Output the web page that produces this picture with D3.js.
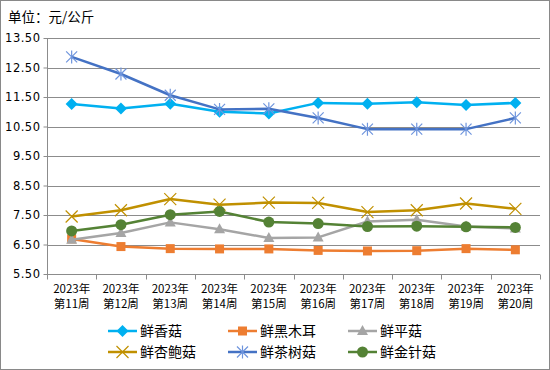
<!DOCTYPE html>
<html>
<head>
<meta charset="utf-8">
<script src="https://cdn.jsdelivr.net/npm/d3@7"></script>
<style>
  body { margin: 0; background: #fff; }
  svg text { font-family: "Noto Sans CJK SC", "Noto Sans", sans-serif; fill: #000; }
</style>
</head>
<body>
<div id="container"></div>
<script>
/* DATA */
const weeks = ["第11周", "第12周", "第13周", "第14周", "第15周", "第16周", "第17周", "第18周", "第19周", "第20周"];
const yearLabel = "2023年";
const yTicks = [5.5, 6.5, 7.5, 8.5, 9.5, 10.5, 11.5, 12.5, 13.5];

const xiangGu = [11.26, 11.11, 11.27, 11.00, 10.94, 11.30, 11.27, 11.32, 11.23, 11.30];
const heiMuEr = [6.69, 6.43, 6.36, 6.35, 6.35, 6.30, 6.28, 6.29, 6.36, 6.32];
const pingGu = [6.66, 6.89, 7.25, 7.02, 6.72, 6.74, 7.28, 7.34, 7.11, 7.04];
const xingBaoGu = [7.45, 7.66, 8.04, 7.85, 7.92, 7.91, 7.60, 7.66, 7.89, 7.71];
const chaShuGu = [12.86, 12.28, 11.56, 11.08, 11.10, 10.79, 10.41, 10.41, 10.41, 10.79];
const jinZhenGu = [6.96, 7.17, 7.51, 7.62, 7.26, 7.21, 7.11, 7.12, 7.10, 7.08];

const series = [
  { name: "鲜香菇", values: xiangGu, color: "#00B0F0", symbol: "diamond" },
  { name: "鲜黑木耳", values: heiMuEr, color: "#ED7D31", symbol: "square" },
  { name: "鲜平菇", values: pingGu, color: "#A5A5A5", symbol: "triangle" },
  { name: "鲜杏鲍菇", values: xingBaoGu, color: "#C09000", symbol: "x" },
  { name: "鲜茶树菇", values: chaShuGu, color: "#4472C4", symbol: "star" },
  { name: "鲜金针菇", values: jinZhenGu, color: "#548235", symbol: "circle" }
];

/* CONSTANTS */
const width = 550, height = 370;
const margin = { top: 38, bottom: 96, left: 47, right: 10 };

const svg = d3.select("#container").append("svg")
  .attr("width", width)
  .attr("height", height);

svg.append("rect")
  .attr("x", 0.5).attr("y", 0.5)
  .attr("width", width - 1).attr("height", height - 1)
  .attr("fill", "#fff").attr("stroke", "#898989");

// SCALES
const xScale = d3.scaleBand()
  .domain(weeks)
  .range([margin.left, width - margin.right]);

const yScale = d3.scaleLinear()
  .domain([5.5, 13.5])
  .range([height - margin.bottom, margin.top]);

// title
svg.append("text")
  .attr("x", 8).attr("y", 22)
  .attr("font-size", 13.5)
  .text("单位：元/公斤");

// GRIDLINES
svg.append("g")
  .selectAll("line")
  .data(yTicks.slice(1))
  .join("line")
  .attr("x1", margin.left).attr("x2", width - margin.right)
  .attr("y1", d => Math.round(yScale(d)) + 0.5)
  .attr("y2", d => Math.round(yScale(d)) + 0.5)
  .attr("stroke", "#8c8c8c");

// Y AXIS
const yAxis = d3.axisLeft(yScale)
  .tickValues(yTicks)
  .tickFormat(d3.format(".2f"))
  .tickSize(4)
  .tickPadding(3);

const yAxisGroup = svg.append("g")
  .attr("transform", `translate(${margin.left + 0.5},0)`)
  .call(yAxis);
yAxisGroup.select(".domain").attr("stroke", "#8c8c8c").attr("d", `M0,${yScale(13.5)}V${yScale(5.5)}`);
yAxisGroup.selectAll(".tick line").attr("stroke", "#8c8c8c");
yAxisGroup.selectAll(".tick text")
  .attr("letter-spacing", "0.5px")
  .style("font-family", "'DejaVu Sans', sans-serif")
  .attr("font-size", 11.5);

// X AXIS
const xAxisGroup = svg.append("g")
  .attr("transform", `translate(0,${Math.round(yScale(5.5)) + 0.5})`);
xAxisGroup.append("line")
  .attr("x1", margin.left).attr("x2", width - margin.right)
  .attr("stroke", "#8c8c8c");
xAxisGroup.selectAll(".xt")
  .data(weeks.concat(["end"]))
  .join("line")
  .attr("class", "xt")
  .attr("x1", (d, i) => Math.round(margin.left + i * xScale.step()) + 0.5)
  .attr("x2", (d, i) => Math.round(margin.left + i * xScale.step()) + 0.5)
  .attr("y1", 0).attr("y2", 5)
  .attr("stroke", "#8c8c8c");

const xLabels = xAxisGroup.selectAll(".xl")
  .data(weeks)
  .join("text")
  .attr("class", "xl")
  .attr("text-anchor", "middle")
  .attr("font-size", 11.5);
xLabels.append("tspan")
  .attr("x", d => xScale(d) + xScale.bandwidth() / 2)
  .attr("y", 18)
  .text(yearLabel);
xLabels.append("tspan")
  .attr("x", d => xScale(d) + xScale.bandwidth() / 2)
  .attr("y", 33)
  .text(d => d);

// LINE GENERATOR
const line = d3.line()
  .x((d, i) => xScale(weeks[i]) + xScale.bandwidth() / 2)
  .y(d => yScale(d));

function drawMarker(g, s, x, y) {
  const c = s.color;
  if (s.symbol === "diamond") {
    g.append("path").attr("d", `M${x},${y - 6}L${x + 6},${y}L${x},${y + 6}L${x - 6},${y}Z`).attr("fill", c);
  } else if (s.symbol === "square") {
    g.append("rect").attr("x", x - 4.5).attr("y", y - 4.5).attr("width", 9).attr("height", 9).attr("fill", c);
  } else if (s.symbol === "triangle") {
    g.append("path").attr("d", `M${x},${y - 6}L${x + 5.5},${y + 4}L${x - 5.5},${y + 4}Z`).attr("fill", c);
  } else if (s.symbol === "x") {
    g.append("path").attr("d", `M${x - 6},${y - 6}L${x + 6},${y + 6}M${x + 6},${y - 6}L${x - 6},${y + 6}`)
      .attr("stroke", c).attr("stroke-width", 1.2);
  } else if (s.symbol === "star") {
    g.append("path").attr("d", `M${x - 5.5},${y - 5.5}L${x + 5.5},${y + 5.5}M${x + 5.5},${y - 5.5}L${x - 5.5},${y + 5.5}M${x},${y - 6.5}L${x},${y + 6.5}`)
      .attr("stroke", "#6f95dd").attr("stroke-width", 1.2);
  } else {
    g.append("circle").attr("cx", x).attr("cy", y).attr("r", 5.5).attr("fill", c);
  }
}

// DRAW LINES
series.forEach(s => {
  const g = svg.append("g");
  g.append("path")
    .datum(s.values)
    .attr("d", line)
    .attr("fill", "none")
    .attr("stroke", s.color)
    .attr("stroke-width", 2.5)
    .attr("stroke-linejoin", "round");
  s.values.forEach((v, i) => {
    drawMarker(g, s, xScale(weeks[i]) + xScale.bandwidth() / 2, yScale(v));
  });
});

// LEGEND
const legendCols = [108, 228, 348];
const legendRows = [331, 352];
series.forEach((s, i) => {
  const lx = legendCols[i % 3], ly = legendRows[Math.floor(i / 3)];
  const g = svg.append("g");
  g.append("line")
    .attr("x1", lx).attr("x2", lx + 29)
    .attr("y1", ly).attr("y2", ly)
    .attr("stroke", s.color).attr("stroke-width", 2.5);
  drawMarker(g, s, lx + 14.5, ly);
  g.append("text")
    .attr("x", lx + 32).attr("y", ly + 5)
    .attr("font-size", 14)
    .text(s.name);
});
</script>
</body>
</html>
